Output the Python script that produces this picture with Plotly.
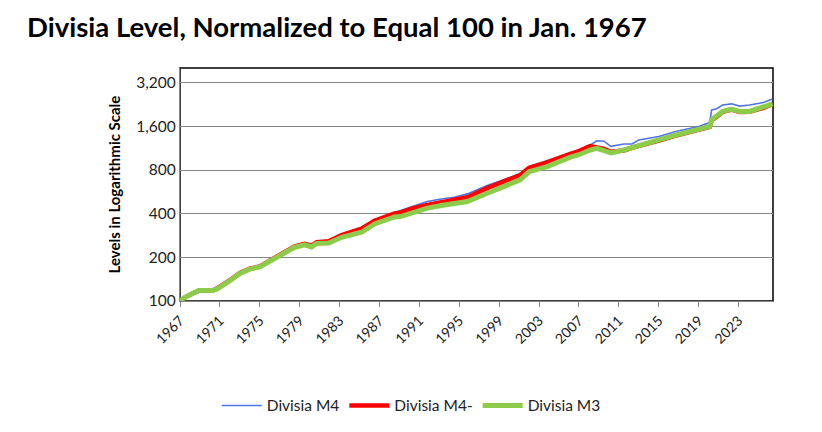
import plotly.graph_objects as go

# sample dates (decimal years) and levels, Jan. 1967 = 100
years = [
  1967.0, 1967.5, 1968.3, 1968.9, 1970.3, 1970.8, 1972.0, 1973.0, 1974.0, 1975.0,
  1976.0, 1977.2, 1978.5, 1979.5, 1980.2, 1980.7, 1981.9, 1983.2, 1984.3, 1985.2,
  1986.5, 1987.1, 1988.5, 1989.1, 1990.3, 1991.8, 1993.2, 1994.5, 1995.8, 1997.8,
  1999.8, 2001.1, 2002.0, 2003.8, 2006.2, 2007.0, 2008.1, 2008.8, 2009.5, 2010.2,
  2011.5, 2012.3, 2013.0, 2015.0, 2016.8, 2019.0, 2020.1, 2020.3, 2020.8, 2021.4,
  2022.3, 2023.1, 2024.1, 2025.5, 2026.4,
]
m4 = [
  100, 106, 113, 118, 118, 123, 139, 156, 167, 173,
  190, 213, 238, 248, 241, 254, 258, 288, 305, 320,
  362, 376, 408, 420, 448, 485, 505, 520, 548, 625,
  700, 755, 845, 930, 1060, 1100, 1190, 1275, 1265, 1165,
  1210, 1210, 1290, 1365, 1480, 1600, 1700, 2080, 2120, 2250,
  2290, 2210, 2250, 2340, 2470,
]
m4_minus = [
  100, 106, 113, 118, 118, 123, 139, 156, 167, 173,
  190, 213, 238, 248, 241, 254, 258, 285, 300, 315,
  358, 372, 402, 407, 435, 460, 482, 498, 520, 600,
  685, 740, 830, 905, 1040, 1080, 1170, 1150, 1120, 1070,
  1090, 1140, 1180, 1280, 1390, 1510, 1590, 1770, 1860, 2020,
  2090, 2015, 2020, 2150, 2280,
]
m3 = [
  100, 106, 113, 118, 118, 122, 138, 155, 166, 172,
  188, 211, 235, 244, 236, 249, 251, 275, 288, 298,
  340, 353, 380, 382, 405, 437, 455, 467, 485, 553,
  630, 685, 780, 845, 985, 1020, 1100, 1130, 1090, 1050,
  1100, 1145, 1190, 1290, 1400, 1520, 1600, 1780, 1870, 2030,
  2100, 2030, 2030, 2160, 2290,
]

tick_years = list(range(1967, 2024, 4))
y_ticks = [100, 200, 400, 800, 1600, 3200]

FONT = 'Lato'
GREY = '#868686'

fig = go.Figure()
fig.add_trace(go.Scatter(x=years, y=m4, name='Divisia M4', mode='lines',
                         line=dict(color='#4F74E3', width=1.6)))
fig.add_trace(go.Scatter(x=years, y=m4_minus, name='Divisia M4-', mode='lines',
                         line=dict(color='#FF0000', width=4.5)))
fig.add_trace(go.Scatter(x=years, y=m3, name='Divisia M3', mode='lines',
                         line=dict(color='#8DCB4A', width=5)))

# the page body adds ~8px, so margins are offset to land the plot where the reference has it
fig.update_layout(
  width=822, height=432,
  margin=dict(l=172, r=57, t=60, b=139, autoexpand=False),
  paper_bgcolor='white', plot_bgcolor='white',
  font=dict(family=FONT, color='#222222'),
  title=dict(text='<b>Divisia Level, Normalized to Equal 100 in Jan. 1967</b>',
             font=dict(family=FONT, size=27.5, color='black'),
             x=19/822, xanchor='left', xref='container', pad=dict(l=0, r=0, t=0, b=0),
             y=1 - 19/432, yanchor='middle', yref='container'),
  xaxis=dict(range=[1967, 2026.45], tickvals=tick_years, ticktext=[str(t) for t in tick_years],
             tickangle=-45, tickfont=dict(size=14), showgrid=False, zeroline=False,
             showline=True, linecolor=GREY, linewidth=1.2, automargin=False,
             ticks='outside', ticklen=5, tickcolor=GREY),
  yaxis=dict(type='log', range=[2, 3.607], tickvals=y_ticks,
             ticktext=[f'{v:,}' for v in y_ticks], tickfont=dict(size=15.5),
             showgrid=True, gridcolor=GREY, gridwidth=1.2, zeroline=False,
             showline=True, linecolor=GREY, linewidth=1.2, ticks='', automargin=False,
             title=dict(text='<b>Levels in Logarithmic Scale</b>', font=dict(size=15, color='black'),
                        standoff=12)),
  legend=dict(orientation='h', x=0.39, xanchor='center', y=-0.45, yanchor='middle',
              font=dict(size=15.5), itemwidth=40, tracegroupgap=0),
  shapes=[dict(type='rect', xref='x domain', yref='y domain', x0=0, x1=1, y0=0, y1=1,
               line=dict(color='black', width=1.5), layer='below')],
)

fig.write_html('out.html')
